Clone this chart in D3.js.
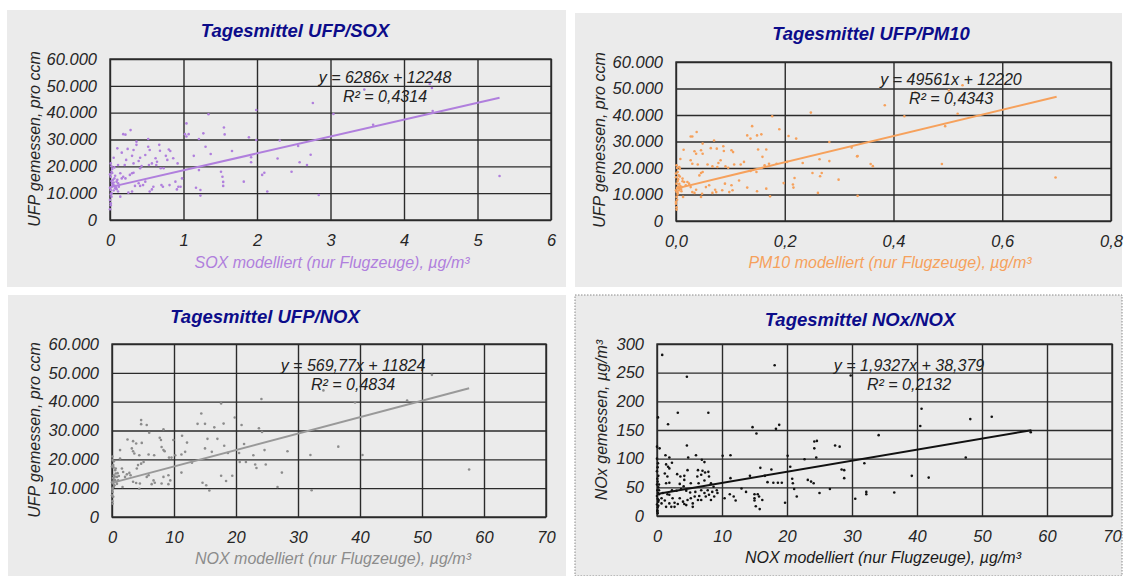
<!DOCTYPE html>
<html>
<head>
<meta charset="utf-8">
<script src="https://cdn.jsdelivr.net/npm/d3@7"></script>
<style>
  body { margin: 0; background: #fff; }
  svg { display: block; font-family: "Liberation Sans", Arial, sans-serif; }
  .tick text { font-style: italic; font-size: 16.5px; fill: #262626; }
  .title { font-weight: bold; font-style: italic; font-size: 18.5px; fill: #0c0c8a; }
  .axis-title { font-style: italic; font-size: 16px; }
  .eq { font-style: italic; font-size: 16px; fill: #222; }
</style>
</head>
<body>
<svg width="1124" height="576"></svg>
<script>
const soxPoints = [
  [1.99,41000],[1.34,39400],[1.04,36000],[1.02,32000],[1.07,32000],[1.04,31100],[0.18,32000],[0.21,31800],
  [0.28,33500],[0.52,30200],[0.36,29200],[1.27,32300],[1.21,30200],[1.55,34500],[1.56,31900],[1.89,30800],
  [1.99,29800],[2.31,29600],[1.30,27300],[1.37,24600],[1.66,25700],[1.92,23400],[1.92,21500],[2.28,22900],
  [2.47,18000],[2.10,17600],[2.07,16800],[2.14,10600],[1.82,14300],[1.51,18000],[1.53,16100],[1.54,14200],
  [1.54,12700],[1.17,12000],[1.23,11200],[1.23,9100],[0.98,15500],[0.96,12400],[1.21,18600],[1.14,23900],
  [0.10,26700],[0.16,25100],[0.24,26500],[0.32,26100],[0.36,28000],[0.52,27300],[0.54,26100],[0.67,28000],
  [0.68,25800],[0.80,26300],[0.82,25700],[0.86,23000],[0.92,21100],[0.76,23900],[0.78,22400],[0.62,23000],
  [0.57,21100],[0.64,21700],[0.48,24200],[0.41,23200],[0.39,22000],[0.30,23900],[0.32,21100],[0.22,22400],
  [0.20,20500],[0.11,20500],[0.06,19600],[0.05,23200],[0.41,19300],[0.43,20100],[0.53,20500],[0.63,20500],
  [0.69,19300],[0.73,19300],[0.89,14300],[0.93,12400],[0.91,11400],[0.81,13000],[0.70,13000],[0.72,12400],
  [0.59,12400],[0.57,11400],[0.54,10600],[0.48,14300],[0.45,13000],[0.39,13700],[0.34,12700],[0.25,10200],
  [0.30,10600],[0.41,12700],[0.27,16800],[0.30,17400],[0.32,17600],[0.14,17400],[0.18,16100],[0.21,15500],
  [0.16,15500],[0.06,15500],[0.09,14300],[0.11,13700],[0.12,12400],[0.07,11800],[0.11,10600],[0.14,8700],
  [0.01,21100],[0.02,18000],[0.01,16100],[0.03,13700],[0.01,11200],[0.02,8700],[0.01,6200],[0.00,4000],
  [0.02,20000],[0.03,19000],[0.00,17000],[0.04,15000],[0.02,14500],[0.03,12500],[0.00,12000],[0.05,11000],
  [0.02,10000],[0.01,9500],[0.04,13000],[0.06,12800],[0.08,12200],[0.05,14000],[0.07,16500],[0.00,7500],
  [0.01,5500],[0.03,17500],[0.09,11500],[0.10,15000],
  [2.76,43600],[3.46,48600],[4.35,50700],[4.38,49200],[3.04,39500],[3.58,35500],[4.39,40600],[2.56,27600],
  [2.73,24300],[2.58,21500],[2.68,20500],[5.30,16400],[2.84,9300]
];

const pm10Points = [
  [0.248,40900],[0.177,39500],[0.140,35800],[0.190,34600],[0.038,33600],[0.027,31900],[0.030,31900],[0.131,32300],
  [0.137,31100],[0.149,32300],[0.157,32700],[0.207,32100],[0.221,31100],[0.070,30400],[0.049,29200],[0.014,26900],
  [0.034,26300],[0.037,25400],[0.046,26700],[0.049,25400],[0.064,27500],[0.075,27300],[0.087,28200],[0.088,26400],
  [0.102,26700],[0.105,26000],[0.151,27000],[0.166,27000],[0.159,24200],[0.282,29800],[0.264,23300],[0.282,22600],
  [0.333,24400],[0.008,23400],[0.006,20400],[0.027,22900],[0.030,21600],[0.040,21300],[0.058,21300],[0.067,20600],
  [0.076,20400],[0.082,22900],[0.078,21900],[0.091,20600],[0.096,20100],[0.107,21300],[0.119,21300],[0.125,22300],
  [0.137,18900],[0.148,18500],[0.163,21000],[0.171,21600],[0.185,21600],[0.204,22300],[0.233,21900],[0.251,18100],
  [0.268,18100],[0.265,16900],[0.299,15600],[0.261,10600],[0.218,16200],[0.215,13800],[0.216,12600],[0.198,14300],
  [0.131,12600],[0.149,11200],[0.166,12200],[0.173,9300],[0.116,15300],[0.102,13500],[0.104,11600],[0.098,10900],
  [0.090,14100],[0.085,11600],[0.072,11800],[0.074,10900],[0.067,10600],[0.061,13500],[0.055,12800],[0.048,10300],
  [0.046,9100],[0.030,10900],[0.034,10600],[0.037,11800],[0.043,17200],[0.046,18100],[0.049,18500],[0.024,14100],
  [0.018,13500],[0.027,12800],[0.021,14700],[0.012,16000],[0.015,14700],[0.011,12800],[0.013,9100],[0.007,19700],
  [0.005,17200],[0.003,15100],[0.006,12200],[0.003,10600],
  [0.001,21000],[0.000,17900],[0.001,14100],[0.000,11600],[0.001,9100],[0.000,6500],[0.001,4300],[0.002,20000],
  [0.003,18500],[0.000,16500],[0.004,13000],[0.002,12500],[0.001,11000],[0.005,11500],[0.003,10000],[0.002,8000],
  [0.006,14000],[0.008,13200],[0.009,12000],[0.004,15800],[0.000,7200],[0.001,5200],[0.007,16800],[0.010,11200],
  [0.012,15000],
  [0.384,43700],[0.440,48600],[0.502,49300],[0.527,51200],[0.420,39500],[0.495,35800],[0.518,40500],[0.323,27700],
  [0.334,24500],[0.358,21500],[0.362,20700],[0.489,21500],[0.698,16400],[0.334,9500]
];

const noxPoints = [
  [24.1,40900],[17.6,39400],[14.4,35900],[4.7,33600],[4.7,32200],[5.6,31900],[13.8,32300],[15.0,32300],
  [16.5,31100],[18.0,32400],[19.8,34500],[20.9,31900],[23.7,30800],[24.2,29500],[8.3,30400],[6.0,29200],
  [2.5,26900],[3.4,26300],[3.9,25500],[4.8,25700],[7.7,27500],[7.9,26700],[9.9,26700],[11.3,28200],
  [12.1,25800],[15.4,27100],[17.0,27100],[18.1,24700],[1.3,23200],[3.2,23800],[3.4,22800],[3.6,22000],
  [4.4,21400],[5.9,21700],[6.8,21400],[8.0,24300],[8.3,23200],[8.5,22800],[9.2,20600],[9.6,20600],
  [10.2,21400],[11.2,21700],[11.8,22600],[12.9,18800],[15.0,23800],[16.1,22600],[18.7,22200],[20.5,22200],
  [21.3,25300],[22.8,21400],[24.6,23200],[28.3,22800],[20.6,19100],[21.6,19100],[23.1,18200],[23.3,17000],
  [24.8,18200],[27.4,15400],[26.7,10400],[17.6,14300],[18.4,12500],[19.4,14300],[14.6,11900],[15.2,11000],
  [15.7,9200],[11.2,15400],[9.1,14500],[9.4,12700],[9.1,11400],[8.3,13900],[8.0,11600],[6.7,12700],
  [6.9,11900],[6.4,11400],[5.9,14500],[5.6,13900],[4.5,11600],[4.4,9800],[3.4,12200],[3.9,11800],
  [4.2,18000],[4.0,16800],[4.7,18500],[5.1,19100],[2.8,15300],[2.4,14800],[3.0,14500],[1.6,16800],
  [1.8,15600],[2.1,13900],[1.7,10400],[1.3,20300],[0.2,18000],[0.5,16200],[0.6,15100],[0.8,13900],
  [1.0,12700],[0.2,11600],[0.3,10400],[0.1,8700],[0.2,7000],[0.1,4600],
  [0.05,21000],[0.1,19800],[0.0,17500],[0.3,14500],[0.15,13500],[0.25,12500],[0.0,12000],[0.4,11000],
  [0.1,10000],[0.05,9500],[0.35,13000],[0.5,12800],[0.7,12200],[0.45,14000],[0.6,16800],[0.0,7500],
  [0.05,5500],[0.25,17200],[0.8,11500],[0.9,15200],[1.1,14200],[0.3,19300],
  [51.6,49300],[34.1,43900],[39.2,39700],[47.6,40400],[32.0,21500],[36.5,24400],[40.4,21500],[57.6,16500],
  [32.2,9300]
];

const noxNoxPoints = [
  [0.8,281],[18.1,263],[4.6,243],[0.15,172],[1.7,160],[3.2,180],[7.9,180],[14.7,155],[15.3,144],[18.3,152],
  [18.8,159],[0,121],[0.4,118],[4.6,123],[1.3,106],[1.9,102],[4.8,102],[6.0,106],[6.9,98],[7.3,94],
  [10.1,105],[11.3,106],[1.4,90],[1.7,86],[1.9,83],[2.3,93],[1.2,74],[1.6,69],[3.1,73],[3.6,69],
  [4.2,70],[4.7,80],[4.2,63],[6.3,80],[7.0,79],[7.4,76],[7.9,77],[8.0,69],[6.2,69],[6.8,72],
  [5.2,57],[6.4,57],[7.3,62],[1.4,57],[1.9,58],[3.5,56],[4.1,52],[3.0,44],[8.3,57],[8.7,51],
  [11.3,66],[15.9,84],[16.6,70],[17.6,81],[17.0,59],[17.9,58],[18.6,58],[19.2,58],[14.3,70],[13.0,48],
  [13.7,42],[11.2,38],[11.8,34],[12.1,27],[10.4,31],[15.0,38],[15.0,31],[15.0,27],[15.5,38],[15.7,34],
  [16.2,28],[15.2,17],[15.8,12],[19.7,23],[20.5,86],[20.8,65],[20.9,57],[21.1,47],[21.5,34],[22.7,99],
  [23.2,63],[23.7,60],[24.1,57],[25.0,40],[24.2,118],[24.2,130],[24.6,131],[24.5,102],[27.4,123],[28.1,121],
  [28.4,81],[28.8,66],[26.6,47],[20.1,105],
  [0.7,22],[1.2,27],[1.9,22],[2.2,16],[2.7,23],[3.2,21],[4.0,25],[4.7,28],[5.2,31],[5.8,34],
  [6.5,35],[6.8,28],[7.3,40],[8.0,37],[8.3,28],[8.8,34],[9.3,40],[9.2,45],[8.5,42],[7.8,45],
  [7.5,34],[6.3,28],[5.5,22],[4.2,21],[3.5,31],[2.4,31],[1.9,37],[1.6,38],[0.9,40],[0.7,31],
  [2.3,45],[3.7,47],[4.5,44],[5.1,41],[5.9,42],[6.8,45],[1.4,16],[2.7,16],[4.5,19],[5.5,16],
  [0.05,10],[0.1,15],[0,20],[0.2,25],[0.1,30],[0,35],[0.15,40],[0.05,45],[0.2,50],[0,55],
  [0.1,60],[0.05,65],[0.2,70],[0,78],[0.1,85],[0.15,92],[0,100],[0.3,38],[0.25,28],[0.3,45],
  [0.05,8],[0.1,5],[0.2,18],[0.3,55],
  [29.8,245],[40.7,187],[40.5,157],[48.2,169],[51.5,173],[34.1,141],[57.5,146],[47.5,102],[28.8,80],[31.9,92],
  [39.2,70],[41.8,67],[32.2,42],[32.2,38],[36.5,41],[30.5,30]
];

// linear trend lines: [slope, intercept, x end]
const soxTrend = [6286, 12248, 5.3];
const pm10Trend = [49561, 12220, 0.70];
const noxTrend = [569.77, 11824, 57.6];
const noxNoxTrend = [1.9327, 38.379, 57.6];

const ufpTicks = [0, 10000, 20000, 30000, 40000, 50000, 60000];
const noxMeasTicks = [0, 50, 100, 150, 200, 250, 300];
const soxTicks = [0, 1, 2, 3, 4, 5, 6];
const pm10Ticks = [0, 0.2, 0.4, 0.6, 0.8];
const noxTicks = [0, 10, 20, 30, 40, 50, 60, 70];

const de = d3.formatLocale({ decimal: ",", thousands: ".", grouping: [3], currency: ["", " €"] });

const svg = d3.select("svg");

const panels = [
  {
    bg: [7, 10, 559, 277], plot: [110, 59, 551, 220],
    title: "Tagesmittel UFP/SOX", titlePos: [295, 37],
    xTitle: "SOX modelliert (nur Flugzeuge), µg/m³", xTitlePos: [332, 268],
    yTitle: "UFP gemessen, pro ccm", yTitlePos: [40, 139],
    color: "#b07fdd", lineColor: "#b07fdd", points: soxPoints, trend: soxTrend,
    xTicks: soxTicks, yTicks: ufpTicks, xFmt: de.format("d"), yFmt: de.format(",d"),
    eq: ["y = 6286x + 12248", "R² = 0,4314"], eqPos: [385, 83]
  },
  {
    bg: [575, 13, 547, 274], plot: [676, 62, 1111, 221],
    title: "Tagesmittel UFP/PM10", titlePos: [871, 40],
    xTitle: "PM10 modelliert (nur Flugzeuge), µg/m³", xTitlePos: [890, 268],
    yTitle: "UFP gemessen, pro ccm", yTitlePos: [605, 140],
    color: "#f6a15c", lineColor: "#f6a15c", points: pm10Points, trend: pm10Trend,
    xTicks: pm10Ticks, yTicks: ufpTicks, xFmt: de.format(".1f"), yFmt: de.format(",d"),
    eq: ["y = 49561x + 12220", "R² = 0,4343"], eqPos: [951, 85]
  },
  {
    bg: [8, 295, 558, 281], plot: [112, 344, 546, 517],
    title: "Tagesmittel UFP/NOX", titlePos: [265, 323],
    xTitle: "NOX modelliert (nur Flugzeuge), µg/m³", xTitlePos: [333, 564],
    yTitle: "UFP gemessen, pro ccm", yTitlePos: [40, 430],
    color: "#8c8c8c", lineColor: "#999999", points: noxPoints, trend: noxTrend,
    xTicks: noxTicks, yTicks: ufpTicks, xFmt: de.format("d"), yFmt: de.format(",d"),
    eq: ["y = 569,77x + 11824", "R² = 0,4834"], eqPos: [353, 371]
  },
  {
    bg: [575, 295, 547, 281], plot: [657, 344, 1112, 516], dotted: true,
    title: "Tagesmittel NOx/NOX", titlePos: [860, 326],
    xTitle: "NOX modelliert (nur Flugzeuge), µg/m³", xTitlePos: [883, 563], xTitleColor: "#1a1a1a",
    yTitle: "NOx gemessen, µg/m³", yTitlePos: [607, 420],
    color: "#111", lineColor: "#111", points: noxNoxPoints, trend: noxNoxTrend,
    xTicks: noxTicks, yTicks: noxMeasTicks, xFmt: de.format("d"), yFmt: de.format("d"),
    eq: ["y = 1,9327x + 38,379", "R² = 0,2132"], eqPos: [909, 371]
  }
];

panels.forEach(drawPanel);

function drawPanel(p) {
  const g = svg.append("g");

  g.append("rect")
    .attr("x", p.bg[0]).attr("y", p.bg[1])
    .attr("width", p.bg[2]).attr("height", p.bg[3])
    .attr("fill", "#ebebeb")
    .attr("stroke", p.dotted ? "#8a8a8a" : "none")
    .attr("stroke-dasharray", p.dotted ? "1.5,1.5" : null);

  const [x0, y0, x1, y1] = p.plot;
  const xMax = p.xTicks[p.xTicks.length - 1];
  const yMax = p.yTicks[p.yTicks.length - 1];
  const x = d3.scaleLinear().domain([0, xMax]).range([x0, x1]);
  const y = d3.scaleLinear().domain([0, yMax]).range([y1, y0]);

  const yAxis = g.append("g")
    .attr("transform", `translate(${x0},0)`)
    .call(d3.axisLeft(y).tickValues(p.yTicks).tickFormat(p.yFmt)
      .tickSize(-(x1 - x0)).tickPadding(13));
  const xAxis = g.append("g")
    .attr("transform", `translate(0,${y1})`)
    .call(d3.axisBottom(x).tickValues(p.xTicks).tickFormat(p.xFmt)
      .tickSize(-(y1 - y0)).tickPadding(14));
  [xAxis, yAxis].forEach(a => {
    a.select(".domain").remove();
    a.selectAll(".tick line").attr("stroke", "#2b2b2b").attr("stroke-width", 1.4);
  });

  g.append("rect")
    .attr("x", x0).attr("y", y0)
    .attr("width", x1 - x0).attr("height", y1 - y0)
    .attr("fill", "none").attr("stroke", "#2b2b2b").attr("stroke-width", 1.4);

  g.append("g")
    .selectAll("circle")
    .data(p.points)
    .join("circle")
    .attr("cx", d => x(d[0]))
    .attr("cy", d => y(d[1]))
    .attr("r", 1.3)
    .attr("fill", p.color);

  const [slope, icpt, xEnd] = p.trend;
  g.append("line")
    .attr("x1", x(0)).attr("y1", y(icpt))
    .attr("x2", x(xEnd)).attr("y2", y(slope * xEnd + icpt))
    .attr("stroke", p.lineColor).attr("stroke-width", 2);

  g.append("text").attr("class", "title")
    .attr("x", p.titlePos[0]).attr("y", p.titlePos[1])
    .attr("text-anchor", "middle").text(p.title);

  g.append("text").attr("class", "axis-title")
    .attr("x", p.xTitlePos[0]).attr("y", p.xTitlePos[1])
    .attr("text-anchor", "middle")
    .attr("fill", p.xTitleColor || p.color)
    .text(p.xTitle);

  g.append("text").attr("class", "axis-title")
    .attr("transform", `translate(${p.yTitlePos[0]},${p.yTitlePos[1]}) rotate(-90)`)
    .attr("text-anchor", "middle")
    .attr("fill", "#262626")
    .text(p.yTitle);

  g.append("g").selectAll("text")
    .data(p.eq)
    .join("text")
    .attr("class", "eq")
    .attr("x", p.eqPos[0])
    .attr("y", (d, i) => p.eqPos[1] + i * 19)
    .attr("text-anchor", "middle")
    .text(d => d);
}
</script>
</body>
</html>
